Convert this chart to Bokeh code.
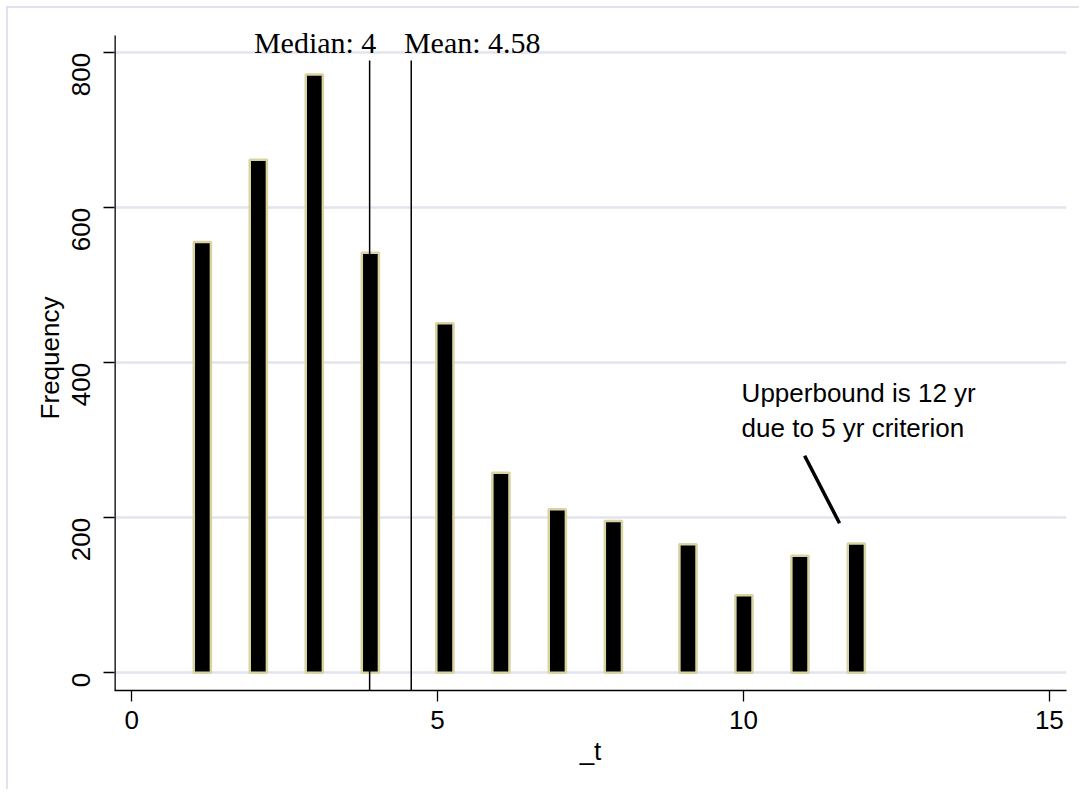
import math
from bokeh.plotting import figure
from bokeh.models import Range1d, FixedTicker, Label
from bokeh.core.properties import value
from bokeh.embed import file_html
from bokeh.resources import INLINE

# ---- data ----
bin_centers = [1.156, 2.071, 2.986, 3.902, 5.12, 6.036, 6.958, 7.874, 9.093, 10.008, 10.923, 11.845]
frequencies = [556, 662, 772, 542, 451, 258, 211, 196, 166, 100, 151, 167]
x_ticks = [0, 5, 10, 15]
y_ticks = [0, 200, 400, 600, 800]
median_line_x = 3.89
mean_line_x = 4.57
ref_line_top = 790
median_label = "Median: 4"
mean_label = "Mean: 4.58"
median_label_x = 4.0
mean_label_x = 4.45
ref_label_y = 813
note_lines = ["Upperbound is 12 yr", "due to 5 yr criterion"]
note_x = [9.97, 9.97]
note_y = [361, 316]
pointer_x = [11.0, 11.57]
pointer_y = [280, 193]

X_START, X_END = -0.28, 15.28
Y_START, Y_END = -22.8, 835.2
Y_AXIS_TOP = 822.3

p = figure(width=1073, height=783, output_backend="svg", toolbar_location=None,
           x_range=Range1d(X_START, X_END), y_range=Range1d(Y_START, Y_END),
           min_border_left=106, min_border_right=15, min_border_top=17, min_border_bottom=101)
p.styles = {"border-left": "2px solid #dfe3ef", "border-top": "2px solid #dfe3ef",
            "margin-left": "6px", "margin-top": "6px"}
p.outline_line_color = None
p.background_fill_color = "white"
p.border_fill_color = "white"

p.xgrid.visible = False
p.ygrid.grid_line_color = "#e2e5f0"
p.ygrid.grid_line_width = 2.5

p.xaxis.ticker = FixedTicker(ticks=x_ticks)
p.yaxis.ticker = FixedTicker(ticks=y_ticks)
p.xaxis.axis_label = "_t"
p.yaxis.axis_label = "Frequency"
for ax in (p.xaxis[0], p.yaxis[0]):
    ax.axis_line_color = "black"
    ax.axis_line_width = 1.3
    ax.major_tick_line_color = "black"
    ax.major_tick_line_width = 1.3
    ax.major_tick_out = 11
    ax.major_tick_in = 0
    ax.minor_tick_line_color = None
    ax.major_label_text_font = "Liberation Sans"
    ax.major_label_text_font_size = "26px"
    ax.major_label_text_color = "black"
    ax.axis_label_text_font = "Liberation Sans"
    ax.axis_label_text_font_size = "26px"
    ax.axis_label_text_font_style = "normal"
    ax.axis_label_text_color = "black"
p.yaxis.axis_line_color = None
p.yaxis.major_label_orientation = math.pi / 2
p.yaxis.major_label_standoff = 22
p.xaxis.major_label_standoff = 9
p.yaxis.axis_label_standoff = -4
p.xaxis.axis_label_standoff = 4

# y axis line, stopping a little below the top of the frame
p.segment(x0=[X_START], y0=[Y_START], x1=[X_START], y1=[Y_AXIS_TOP],
          line_color="black", line_width=2.6)

p.vbar(x=bin_centers, top=frequencies, bottom=0, width=0.28,
       fill_color="black", line_color="#d8d3a0", line_width=2.5)

p.segment(x0=[median_line_x, mean_line_x], y0=[Y_START, Y_START],
          x1=[median_line_x, mean_line_x], y1=[ref_line_top, ref_line_top],
          line_color="black", line_width=1.5)

p.add_layout(Label(x=median_label_x, y=ref_label_y, text=median_label,
                   text_font="Liberation Serif", text_font_size="30px",
                   text_align="right", text_baseline="alphabetic", text_color="black"))
p.add_layout(Label(x=mean_label_x, y=ref_label_y, text=mean_label,
                   text_font="Liberation Serif", text_font_size="30px",
                   text_align="left", text_baseline="alphabetic", text_color="black"))

p.text(x=note_x, y=note_y, text=note_lines,
       text_font=value("Liberation Sans"), text_font_size=value("26px"),
       text_align="left", text_baseline="alphabetic", text_color="black")
p.line(x=pointer_x, y=pointer_y, line_color="black", line_width=3.5)

open("out.html", "w").write(file_html(p, INLINE))
